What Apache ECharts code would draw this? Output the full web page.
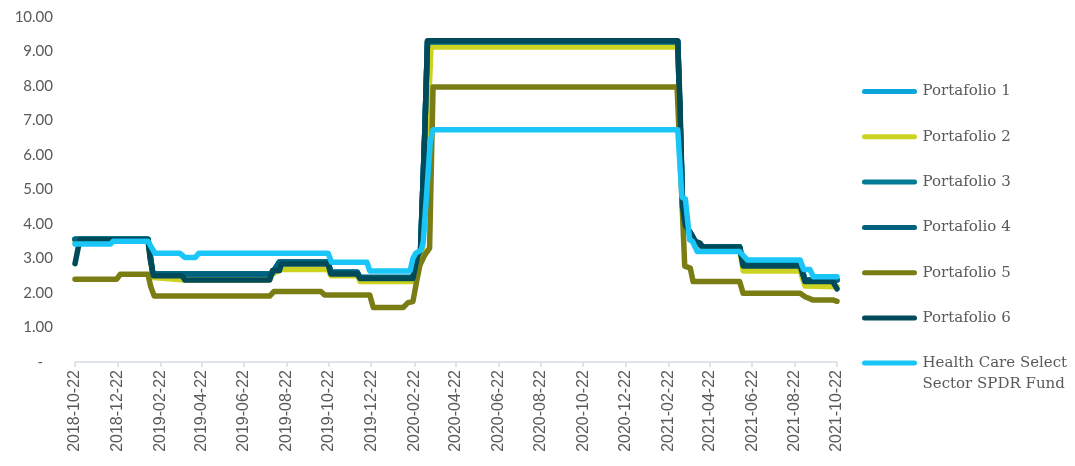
<!DOCTYPE html>
<html>
<head>
<meta charset="utf-8">
<script src="https://cdn.jsdelivr.net/npm/echarts@6/dist/echarts.min.js"></script>
<style>
  html, body { margin: 0; padding: 0; background: #ffffff; }
  #chart { width: 1075px; height: 466px; }
</style>
</head>
<body>
<div id="chart"></div>
<script>
// Tick dates shown along the date axis (every two months, on the 22nd)
const xTickDates = ['2018-10-22','2018-12-22','2019-02-22','2019-04-22','2019-06-22','2019-08-22',
  '2019-10-22','2019-12-22','2020-02-22','2020-04-22','2020-06-22','2020-08-22','2020-10-22',
  '2020-12-22','2021-02-22','2021-04-22','2021-06-22','2021-08-22','2021-10-22'];

const seriesNames = ['Portafolio 1','Portafolio 2','Portafolio 3','Portafolio 4','Portafolio 5','Portafolio 6',
  'Health Care Select Sector SPDR Fund'];

// Each series: [date, value] points where the level changes
const p1 = [['2018-10-22',3.56],['2019-02-04',3.56],['2019-02-11',2.55],['2019-08-01',2.55],['2019-08-12',2.9],
  ['2019-10-21',2.9],['2019-10-25',2.6],['2019-12-02',2.6],['2019-12-06',2.45],['2020-02-20',2.45],['2020-02-27',3.1],
  ['2020-03-02',3.25],['2020-03-08',6.6],['2020-03-12',9.28],['2021-03-07',9.28],['2021-03-14',4.5],['2021-03-18',3.95],
  ['2021-03-25',3.75],['2021-04-01',3.5],['2021-04-12',3.34],['2021-06-04',3.34],['2021-06-09',2.85],['2021-08-30',2.85],
  ['2021-09-06',2.38],['2021-10-22',2.38]];

const p2 = [['2018-10-22',3.5],['2019-02-04',3.5],['2019-02-11',2.45],['2019-03-29',2.38],['2019-07-29',2.38],
  ['2019-08-02',2.55],['2019-08-15',2.68],['2019-10-21',2.68],['2019-10-25',2.5],['2019-12-02',2.5],['2019-12-06',2.33],
  ['2020-02-20',2.33],['2020-02-27',3.0],['2020-03-05',3.2],['2020-03-17',9.13],['2021-03-07',9.13],['2021-03-14',4.4],
  ['2021-03-18',3.9],['2021-03-25',3.7],['2021-04-01',3.45],['2021-04-12',3.28],['2021-06-04',3.28],['2021-06-09',2.64],
  ['2021-08-30',2.64],['2021-09-06',2.2],['2021-10-22',2.18]];

const p3 = [['2018-10-22',3.56],['2019-02-04',3.56],['2019-02-11',2.55],['2019-08-01',2.55],['2019-08-12',2.9],
  ['2019-10-21',2.9],['2019-10-25',2.6],['2019-12-02',2.6],['2019-12-06',2.45],['2020-02-20',2.45],['2020-02-27',3.1],
  ['2020-03-02',3.25],['2020-03-08',6.6],['2020-03-12',9.28],['2021-03-07',9.28],['2021-03-14',4.5],['2021-03-18',3.95],
  ['2021-03-25',3.75],['2021-04-01',3.5],['2021-04-12',3.34],['2021-06-04',3.34],['2021-06-09',2.85],['2021-08-30',2.85],
  ['2021-09-06',2.38],['2021-10-22',2.38]];

const p4 = [['2018-10-22',3.56],['2019-02-04',3.56],['2019-02-11',2.55],['2019-08-01',2.55],['2019-08-12',2.9],
  ['2019-10-21',2.9],['2019-10-25',2.6],['2019-12-02',2.6],['2019-12-06',2.45],['2020-02-20',2.45],['2020-02-27',3.1],
  ['2020-03-02',3.25],['2020-03-08',6.6],['2020-03-12',9.28],['2021-03-07',9.28],['2021-03-14',4.5],['2021-03-18',3.95],
  ['2021-03-25',3.75],['2021-04-01',3.5],['2021-04-12',3.34],['2021-06-04',3.34],['2021-06-09',2.85],['2021-08-30',2.85],
  ['2021-09-06',2.38],['2021-10-22',2.38]];

const p5 = [['2018-10-22',2.4],['2018-12-21',2.4],['2018-12-26',2.54],['2019-02-04',2.54],['2019-02-08',2.18],
  ['2019-02-13',1.91],['2019-07-29',1.91],['2019-08-04',2.04],['2019-10-11',2.04],['2019-10-16',1.94],['2019-12-20',1.94],
  ['2019-12-25',1.58],['2020-02-06',1.58],['2020-02-13',1.72],['2020-02-20',1.75],['2020-02-25',2.3],['2020-03-01',2.8],
  ['2020-03-08',3.1],['2020-03-15',3.3],['2020-03-20',7.97],['2021-03-06',7.97],['2021-03-17',2.78],['2021-03-25',2.72],
  ['2021-03-29',2.33],['2021-06-04',2.33],['2021-06-09',1.99],['2021-08-30',1.99],['2021-09-06',1.89],['2021-09-17',1.8],
  ['2021-10-16',1.8],['2021-10-22',1.76]];

const p6 = [['2018-10-22',2.85],['2018-10-29',3.55],['2019-02-04',3.55],['2019-02-07',3.0],['2019-02-12',2.5],
  ['2019-03-25',2.5],['2019-03-29',2.38],['2019-07-29',2.38],['2019-08-02',2.65],['2019-08-12',2.65],['2019-08-15',2.84],
  ['2019-10-21',2.84],['2019-10-25',2.55],['2019-12-02',2.55],['2019-12-06',2.42],['2020-02-20',2.42],['2020-02-27',3.1],
  ['2020-03-02',3.25],['2020-03-08',6.6],['2020-03-12',9.31],['2021-03-07',9.31],['2021-03-10',7.6],['2021-03-14',4.5],
  ['2021-03-18',3.95],['2021-03-25',3.75],['2021-04-01',3.5],['2021-04-08',3.45],['2021-04-12',3.32],['2021-06-04',3.32],
  ['2021-06-09',2.78],['2021-08-30',2.78],['2021-09-06',2.33],['2021-10-16',2.33],['2021-10-22',2.12]];

const hc = [['2018-10-22',3.42],['2018-12-12',3.42],['2018-12-16',3.5],['2019-02-04',3.5],['2019-02-14',3.15],
  ['2019-03-22',3.15],['2019-03-29',3.03],['2019-04-13',3.03],['2019-04-18',3.15],['2019-10-21',3.15],['2019-10-26',2.89],
  ['2019-12-16',2.89],['2019-12-20',2.64],['2020-02-16',2.64],['2020-02-20',3.0],['2020-02-24',3.15],['2020-03-03',3.25],
  ['2020-03-06',3.5],['2020-03-16',6.4],['2020-03-18',6.45],['2020-03-20',6.73],['2021-03-07',6.73],['2021-03-13',4.78],
  ['2021-03-18',4.72],['2021-03-24',3.54],['2021-03-28',3.5],['2021-04-04',3.2],['2021-06-04',3.2],['2021-06-15',2.96],
  ['2021-08-30',2.96],['2021-09-04',2.68],['2021-09-13',2.68],['2021-09-18',2.47],['2021-10-22',2.47]];

const seriesData = [p1, p2, p3, p4, p5, p6, hc];
const colors = ['#0AA5D8','#CDD221','#007B96','#00627F','#7A7D14','#004A5A','#1AC6F7'];

// Dates are placed on a numeric axis as day counts (UTC) so ticks can sit on the 22nd
const DAY = 86400000;
function dayNum(s) {
  const [y, m, d] = s.split('-').map(Number);
  return Date.UTC(y, m - 1, d) / DAY;
}
function dayLabel(n) {
  return new Date(Math.round(n) * DAY).toISOString().slice(0, 10);
}
const tickValues = xTickDates.map(dayNum);

const textGrey = '#595959';
const axisGrey = '#D5DBE5';
// Stadium-shaped legend swatch (a thick line with round ends)
const swatch = 'path://M2.5,0 H52.5 A2.5,2.5 0 0 1 52.5,5 H2.5 A2.5,2.5 0 0 1 2.5,0 Z';

const legendText = { fontFamily: 'DejaVu Serif', fontSize: 15, color: textGrey, lineHeight: 21 };

const chart = echarts.init(document.getElementById('chart'), null, { renderer: 'canvas' });
chart.setOption({
  animation: false,
  backgroundColor: '#ffffff',
  grid: { left: 75, right: 238, top: 17, bottom: 104, containLabel: false },
  legend: [
    {
      data: seriesNames.slice(0, 6),
      orient: 'vertical',
      left: 857, top: 76,
      itemWidth: 56, itemHeight: 5, itemGap: 24.3,
      icon: swatch,
      textStyle: legendText,
      selectedMode: false
    },
    {
      data: [seriesNames[6]],
      orient: 'vertical',
      left: 857, top: 326.5,
      itemWidth: 56, itemHeight: 5,
      icon: swatch,
      formatter: name => '\n' + name.replace(' Sector', '\nSector'),
      textStyle: legendText,
      selectedMode: false
    }
  ],
  xAxis: {
    type: 'value',
    min: tickValues[0],
    max: tickValues[tickValues.length - 1],
    axisLine: { show: true, lineStyle: { color: axisGrey, width: 1.5 } },
    axisTick: { show: true, customValues: tickValues, length: 5, lineStyle: { color: axisGrey, width: 1.5 } },
    axisLabel: {
      customValues: tickValues,
      rotate: 90,
      margin: 8,
      fontFamily: 'Liberation Sans',
      fontSize: 16,
      color: textGrey,
      formatter: v => dayLabel(v)
    },
    splitLine: { show: false }
  },
  yAxis: {
    type: 'value',
    min: 0, max: 10, interval: 1,
    axisLine: { show: false },
    axisTick: { show: false },
    splitLine: { show: false },
    axisLabel: {
      margin: 22,
      fontFamily: 'Lato',
      fontSize: 15,
      color: textGrey,
      formatter: v => v === 0 ? '{d|-}' : v.toFixed(2),
      rich: { d: { fontFamily: 'Lato', fontSize: 15, color: textGrey, padding: [0, 10, 0, 0] } }
    }
  },
  series: seriesNames.map((name, i) => ({
    name,
    type: 'line',
    data: seriesData[i].map(([d, v]) => [dayNum(d), v]),
    color: colors[i],
    showSymbol: false,
    symbol: 'none',
    lineStyle: { width: 5.5, color: colors[i], cap: 'round', join: 'round' },
    z: 2 + i
  }))
});
</script>
</body>
</html>
